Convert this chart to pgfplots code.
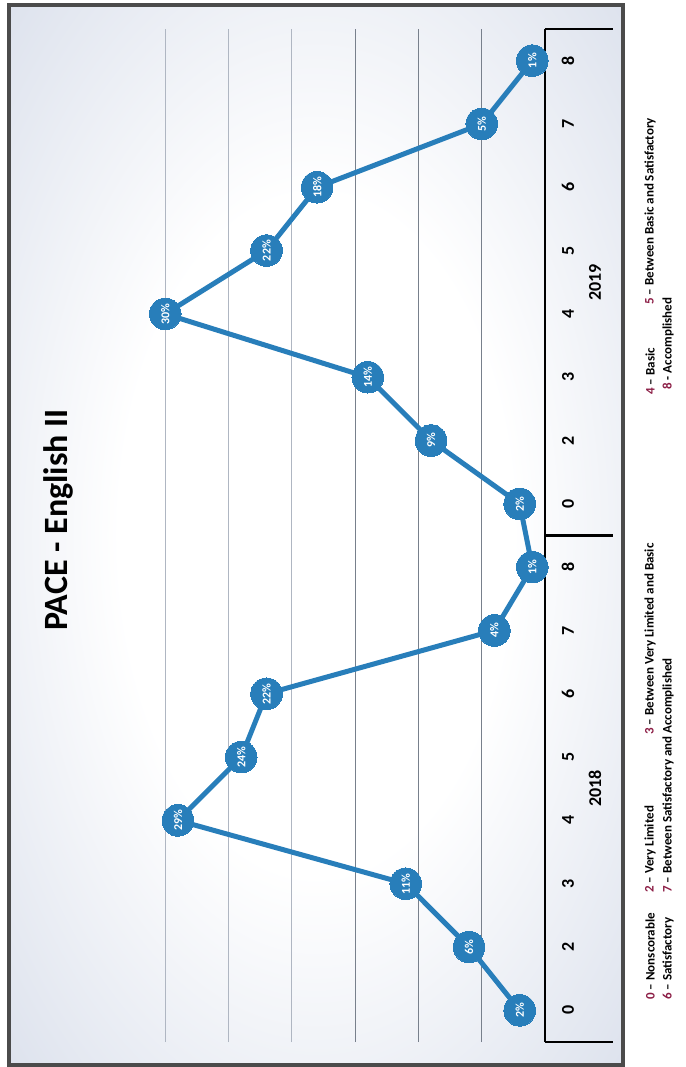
\documentclass[border=0pt]{standalone}
\usepackage{fontspec}
\setmainfont{Carlito}
\usepackage{pgfplots}
\pgfplotsset{compat=1.18}
\usepackage{pgfplotstable}
\definecolor{lineblue}{RGB}{40,126,186}
\definecolor{bgblue}{RGB}{196,205,224}
\definecolor{legnum}{RGB}{140,30,70}
\definecolor{framegray}{RGB}{75,75,75}
\definecolor{griddark}{RGB}{120,128,140}
\definecolor{gridlight}{RGB}{175,182,194}
\pgfdeclareradialshading{glow}{\pgfpoint{0bp}{0bp}}{color(0bp)=(white); color(16bp)=(white); color(50bp)=(bgblue)}

\pgfplotstableread{
idx val
0 2
1 6
2 11
3 29
4 24
5 22
6 4
7 1
8 2
9 9
10 14
11 30
12 22
13 18
14 5
15 1
}\datatable

\begin{document}
\begin{tikzpicture}
\useasboundingbox (0pt,0pt) rectangle (343pt,533.5pt);
\shade[shading=glow] (4.5pt,1pt) rectangle (311.5pt,531pt);
\draw[framegray, line width=2pt] (4.5pt,1pt) rectangle (311.5pt,531pt);
\node[rotate=90, font=\fontsize{17}{20}\selectfont\bfseries] at (29pt,273.5pt) {PACE - English II};
\begin{axis}[
  at={(51pt,12.5pt)}, anchor=south west,
  scale only axis, width=221.5pt, height=506.5pt,
  xmin=0, xmax=35, x dir=reverse,
  ymin=-0.5, ymax=15.5,
  axis line style={draw=none},
  xtick={5,10,15}, xticklabels={},
  xmajorgrids, grid style={griddark, line width=0.6pt},
  extra x ticks={20,25,30}, extra x tick labels={},
  extra x tick style={grid style={gridlight, line width=0.6pt}},
  ytick={0,...,15},
  yticklabels={0,2,3,4,5,6,7,8,0,2,3,4,5,6,7,8},
  yticklabel pos=right,
  major tick length=0pt,
  yticklabel style={xshift=11.5pt, rotate=90, anchor=center, font=\fontsize{9}{10}\selectfont\bfseries},
  extra y ticks={3.5,11.5},
  extra y tick labels={2018,2019},
  extra y tick style={yticklabel style={yshift=-13.5pt}},
  clip=false,
  /pgf/number format/assume math mode=true,
]
\addplot[lineblue, line width=2.5pt, mark=*, mark size=7.9pt,
  mark options={fill=lineblue, draw=lineblue, line width=0pt},
  point meta=x,
  nodes near coords={\pgfmathprintnumber{\pgfplotspointmeta}\%},
  every node near coord/.append style={rotate=90, anchor=center, text=white,
    font=\fontsize{6}{7}\selectfont\bfseries, inner sep=0pt}]
  table[x=val, y=idx] {\datatable};
\draw[black, line width=1.2pt] (axis cs:0,-0.5) -- (axis cs:0,15.5);
\draw[black, line width=1.2pt] (axis cs:0,-0.5) -- (axis cs:-5.37,-0.5);
\draw[black, line width=1.2pt] (axis cs:0,7.5) -- (axis cs:-5.37,7.5);
\draw[black, line width=1.2pt] (axis cs:0,15.5) -- (axis cs:-5.37,15.5);
\end{axis}
\begin{scope}[every node/.style={rotate=90, anchor=west, inner sep=0pt, font=\fontsize{6.5}{8}\selectfont\bfseries}]
\node at (325pt,33.5pt) {\textcolor{legnum}{0} -- Nonscorable};
\node at (325pt,87pt) {\textcolor{legnum}{2} -- Very Limited};
\node at (325pt,166pt) {\textcolor{legnum}{3} -- Between Very Limited and Basic};
\node at (325pt,336pt) {\textcolor{legnum}{4} -- Basic};
\node at (325pt,381pt) {\textcolor{legnum}{5} -- Between Basic and Satisfactory};
\node at (334pt,33.5pt) {\textcolor{legnum}{6} -- Satisfactory};
\node at (334pt,87pt) {\textcolor{legnum}{7} -- Between Satisfactory and Accomplished};
\node at (334pt,338.5pt) {\textcolor{legnum}{8} - Accomplished};
\end{scope}
\end{tikzpicture}
\end{document}
